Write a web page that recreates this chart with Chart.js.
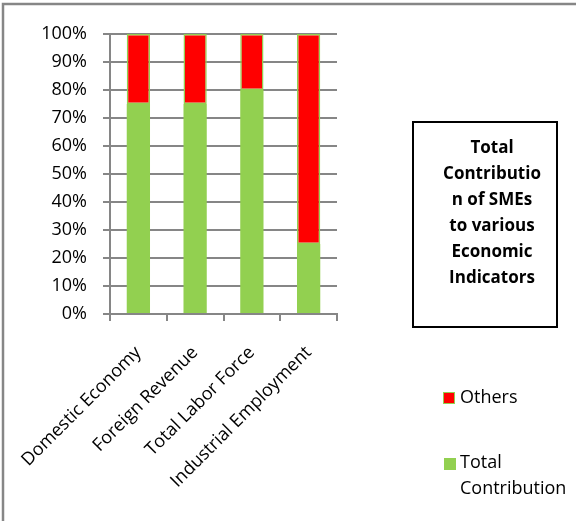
<!DOCTYPE html>
<html>
<head>
<meta charset="utf-8">
<script src="https://cdn.jsdelivr.net/npm/chart.js@4/dist/chart.umd.min.js"></script>
<style>
    html, body { margin: 0; padding: 0; background: #fff; }
    #wrap { width: 576px; height: 521px; position: relative; }
</style>
</head>
<body>
<div id="wrap"><canvas id="graphique" width="576" height="521"></canvas></div>
<script>
const categories = ["Domestic Economy", "Foreign Revenue", "Total Labor Force", "Industrial Employment"];
const totalContribution = [75, 75, 80, 25];
const others = [25, 25, 20, 75];
const titleLines = ["Total", "Contributio", "n of SMEs", "to various", "Economic", "Indicators"];

const vert = "#92D050";
const rouge = "#FF0000";
const gris = "#868686";
const police = "'Open Sans', sans-serif";

// cadre, boite de titre et legende dessines a la main
const decor = {
    id: "decor",
    afterDraw(chart) {
        const ctx = chart.ctx;
        ctx.save();
        ctx.strokeStyle = gris;
        ctx.lineWidth = 2.5;
        ctx.strokeRect(3, 4, 700, 700);

        ctx.strokeStyle = "#000";
        ctx.lineWidth = 2;
        ctx.strokeRect(413, 122, 144, 205);

        ctx.fillStyle = "#000";
        ctx.font = "bold 17px " + police;
        ctx.textAlign = "center";
        ctx.textBaseline = "alphabetic";
        titleLines.forEach(function(ligne, i) {
            ctx.fillText(ligne, 492, 153 + i * 26);
        });

        const ds = chart.data.datasets;
        ctx.font = "18px " + police;
        ctx.textAlign = "left";
        ctx.textBaseline = "middle";
        // Others
        ctx.fillStyle = ds[1].backgroundColor;
        ctx.fillRect(443, 392, 12, 12);
        ctx.strokeStyle = ds[1].borderColor;
        ctx.lineWidth = 1;
        ctx.strokeRect(443.5, 392.5, 11, 11);
        ctx.fillStyle = "#000";
        ctx.fillText(ds[1].label, 460, 398);
        // Total Contribution
        ctx.fillStyle = ds[0].backgroundColor;
        ctx.fillRect(444, 458, 12, 12);
        ctx.fillStyle = "#000";
        const mots = ds[0].label.split(" ");
        ctx.fillText(mots[0], 460, 463);
        ctx.fillText(mots[1], 460, 489);
        ctx.restore();
    }
};

new Chart(document.getElementById("graphique"), {
    type: "bar",
    data: {
        labels: categories,
        datasets: [{
            label: "Total Contribution",
            data: totalContribution,
            backgroundColor: vert,
            borderWidth: 0
        }, {
            label: "Others",
            data: others,
            backgroundColor: rouge,
            borderColor: vert,
            borderWidth: 1.5,
            borderSkipped: false
        }]
    },
    options: {
        responsive: false,
        animation: false,
        layout: {
            padding: { top: 34, right: 239, left: 0, bottom: 0 }
        },
        datasets: {
            bar: { barPercentage: 0.41, categoryPercentage: 1 }
        },
        plugins: {
            legend: { display: false },
            tooltip: { enabled: false }
        },
        scales: {
            x: {
                stacked: true,
                afterFit: function(s) {
                    s.height = 207;
                    s.paddingLeft = 0;
                    s.paddingRight = 0;
                },
                grid: {
                    offset: true,
                    drawOnChartArea: false,
                    color: gris,
                    lineWidth: 2,
                    tickLength: 7
                },
                border: { color: gris, width: 2 },
                ticks: {
                    color: "#000",
                    font: { family: police, size: 18 },
                    minRotation: 45,
                    maxRotation: 45,
                    padding: 21,
                    autoSkip: false
                }
            },
            y: {
                stacked: true,
                min: 0,
                max: 100,
                afterFit: function(s) { s.width = 110; },
                grid: {
                    color: gris,
                    lineWidth: 2,
                    tickLength: 7
                },
                border: { color: gris, width: 2 },
                ticks: {
                    stepSize: 10,
                    color: "#000",
                    font: { family: police, size: 18 },
                    padding: 16,
                    callback: function(v) { return v + "%"; }
                }
            }
        }
    },
    plugins: [decor]
});
</script>
</body>
</html>
